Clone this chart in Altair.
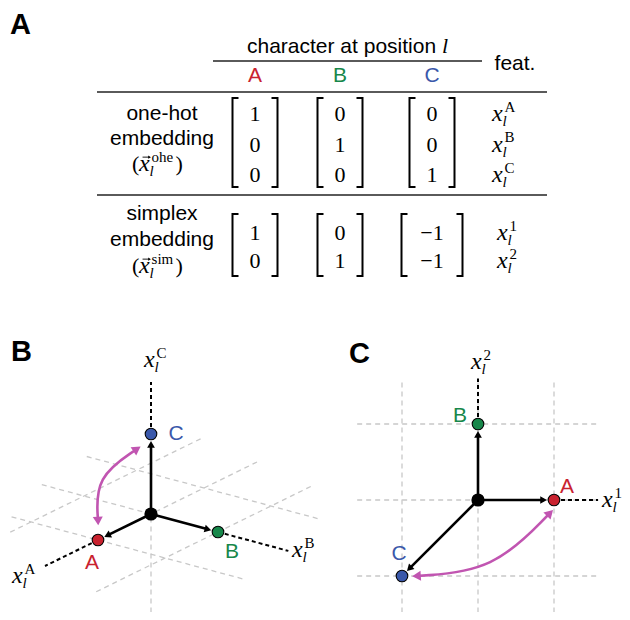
import math
import altair as alt
import pandas as pd

# ---------------- data ----------------
chars = ["A", "B", "C"]
char_colors = ["#c9222f", "#17874a", "#3a58aa"]
ohe_vectors = [[1, 0, 0], [0, 1, 0], [0, 0, 1]]      # one-hot embedding of A, B, C
sim_vectors = [[1, 0], [0, 1], [-1, -1]]             # simplex embedding of A, B, C
ohe_feat_sup = ["A", "B", "C"]
sim_feat_sup = ["1", "2"]
header_text = "character at position"
feat_text = "feat."
ohe_label = ["one-hot", "embedding"]
sim_label = ["simplex", "embedding"]
ohe_tag = "ohe"
sim_tag = "sim"
panel_letters = ["A", "B", "C"]

# ---------------- layout ----------------
PX0, PY0, W, H = 8, 8, 614, 604
SANS = "Liberation Sans"
SERIF = "Liberation Serif"
MAG = "#c155b1"
GRID = "#c8c8c8"

xs = alt.Scale(domain=[PX0, PX0 + W])
ys = alt.Scale(domain=[PY0, PY0 + H], reverse=True)
XE = alt.X("x:Q", scale=xs, axis=None)
YE = alt.Y("y:Q", scale=ys, axis=None)

layers = []


def seg_layer(rows, color, width, dash=None):
    df = pd.DataFrame(rows, columns=["x", "y", "x2", "y2"])
    kw = dict(color=color, strokeWidth=width)
    if dash:
        kw["strokeDash"] = dash
    return alt.Chart(df).mark_rule(**kw).encode(x=XE, y=YE, x2="x2:Q", y2="y2:Q")


def text_layer(rows, size, font=SANS, style="normal", weight="normal", align="center", color="black"):
    cols = ["x", "y", "t"] + (["c"] if len(rows[0]) > 3 else [])
    df = pd.DataFrame(rows, columns=cols)
    kw = dict(fontSize=size, font=font, fontStyle=style, fontWeight=weight,
              align=align, baseline="alphabetic")
    enc = dict(x=XE, y=YE, text="t:N")
    if "c" in df.columns:
        enc["color"] = alt.Color("c:N", scale=None)
    else:
        kw["color"] = color
    return alt.Chart(df).mark_text(**kw).encode(**enc)


def head_angle(ux, uy):
    return math.degrees(math.atan2(ux, -uy)) % 360


# math label pieces
m_x, m_sub, m_sup, m_par = [], [], [], []
vec_shafts, vec_heads = [], []


def math_label(xl, yb, sup, s=21, vec=False):
    m_x.append((xl, yb, "x"))
    m_sub.append((xl + 0.5 * s, yb + 0.25 * s, "l"))
    m_sup.append((xl + 0.6 * s, yb - 0.45 * s, sup))
    if vec:
        cx, cy = xl + 0.36 * s, yb - 0.66 * s
        vec_shafts.append((cx - 4, cy, cx + 3, cy))
        vec_heads.append((cx + 3, cy, 90))


# ---------------- panel A: table ----------------
col_x = [255, 340, 432]
table_rules = [(213, 61, 482, 61), (97, 92, 547, 92), (97, 195, 547, 195)]
sans_rows = [(247, 53, header_text)]
sans_center = [(515, 70, feat_text)]
colored_text = [(col_x[j], 82, chars[j], char_colors[j]) for j in range(3)]

ohe_rows_y = [121, 151.5, 182]
sim_rows_y = [240, 268]
ohe_label_y = [120, 145, 171]
sim_label_y = [220, 246, 273]
label_cx = 162

for i, t in enumerate(ohe_label):
    sans_center.append((label_cx, ohe_label_y[i], t))
for i, t in enumerate(sim_label):
    sans_center.append((label_cx, sim_label_y[i], t))

# "(x_l^tag)" expressions
for yb, tag in [(ohe_label_y[2], ohe_tag), (sim_label_y[2], sim_tag)]:
    m_par.append((132, yb, "("))
    math_label(139, yb, tag, vec=True)
    m_par.append((175.5, yb, ")"))

num_rows = []
bracket_pts = []
bid = 0
for section, vecs, rows_y, top, bot in [("ohe", ohe_vectors, ohe_rows_y, 98, 187),
                                        ("sim", sim_vectors, sim_rows_y, 214, 276)]:
    for j, v in enumerate(vecs):
        for i, val in enumerate(v):
            num_rows.append((col_x[j], rows_y[i], str(val).replace("-", "\u2212")))
        hw = 30.5 if min(v) < 0 else 22.5
        xl, xr = col_x[j] - hw, col_x[j] + hw
        for side, xe, tick in [("l", xl, 6), ("r", xr, -6)]:
            pts = [(xe + tick, top), (xe, top), (xe, bot), (xe + tick, bot)]
            for o, (px, py) in enumerate(pts):
                bracket_pts.append((px, py, bid, o))
            bid += 1

for i, s in enumerate(ohe_feat_sup):
    math_label(492, ohe_rows_y[i], s)
for i, s in enumerate(sim_feat_sup):
    math_label(497, sim_rows_y[i], s)

# ---------------- panel B: one-hot in 3D ----------------
OB = (151, 514)
eA, eB, eC = (-53, 26), (67, 18), (0, -80)


def projB(a, b, c):
    return (OB[0] + a * eA[0] + b * eB[0] + c * eC[0],
            OB[1] + a * eA[1] + b * eB[1] + c * eC[1])


gridB_fixedB = [(-1, -2.2, 1.5), (0, -2.0, 0), (1, -1.75, 2.3)]
gridB_fixedA = [(-1, -1.75, 1.7), (0, -1.63, 0), (1, -1.42, 2.2)]
gridB_vert = (-1.23, 0)

grid_rows = []
for b, a0, a1 in gridB_fixedB:
    grid_rows.append((*projB(a0, b, 0), *projB(a1, b, 0)))
for a, b0, b1 in gridB_fixedA:
    grid_rows.append((*projB(a, b0, 0), *projB(a, b1, 0)))
grid_rows.append((*projB(0, 0, gridB_vert[0]), *projB(0, 0, gridB_vert[1])))

axis_rows = [(*projB(1, 0, 0), *projB(2.0, 0, 0)),
             (*projB(0, 1, 0), *projB(0, 2.05, 0)),
             (*projB(0, 0, 1), *projB(0, 0, 1.65))]

ptsB = [projB(*v) for v in ohe_vectors]

# ---------------- panel C: simplex in 2D ----------------
OC = (478, 500)
U = 76


def projC(s1, s2):
    return (OC[0] + U * s1, OC[1] - U * s2)


for s1 in [-1, 0, 1]:
    grid_rows.append((*projC(s1, -1.48), *projC(s1, 1.6)))
for s2 in [-1, 0, 1]:
    grid_rows.append((*projC(-1.59, s2), *projC(1.58, s2)))
axis_rows += [(*projC(1, 0), *projC(1.58, 0)), (*projC(0, 1), *projC(0, 1.6))]
ptsC = [projC(*v) for v in sim_vectors]

# arrows (shafts + heads)
R_PT = 6.5
shafts, heads = [], []
for O, pts in [(OB, ptsB), (OC, ptsC)]:
    for (px, py) in pts:
        dx, dy = px - O[0], py - O[1]
        L = math.hypot(dx, dy)
        ux, uy = dx / L, dy / L
        tip = (px - ux * (R_PT + 0.3), py - uy * (R_PT + 0.3))
        cen = (tip[0] - ux * 3.6, tip[1] - uy * 3.6)
        shafts.append((O[0], O[1], cen[0], cen[1]))
        heads.append((cen[0], cen[1], head_angle(ux, uy)))

# magenta arcs (start, control, end) -> basis curve
arcs = [[(137, 449), (95.5, 477), (98, 521)],
        [(550, 513), (493.5, 571), (416.5, 576)]]
arc_rows, arc_heads = [], []
for k, (p0, p1, p2) in enumerate(arcs):
    for o, p in enumerate([p0, p1, p2]):
        arc_rows.append((p[0], p[1], k, o))
    for pe, pc in [(p0, p1), (p2, p1)]:
        dx, dy = pe[0] - pc[0], pe[1] - pc[1]
        L = math.hypot(dx, dy)
        arc_heads.append((pe[0], pe[1], head_angle(dx / L, dy / L)))

# points
pt_rows = [(ptsB[j][0], ptsB[j][1], char_colors[j]) for j in range(3)] + \
          [(ptsC[j][0], ptsC[j][1], char_colors[j]) for j in range(3)]
origin_rows = [(OB[0], OB[1]), (OC[0], OC[1])]

# point labels
colored_text += [
    (176, 440, "C", char_colors[2]), (92, 569, "A", char_colors[0]), (232, 558, "B", char_colors[1]),
    (460, 422, "B", char_colors[1]), (567, 493, "A", char_colors[0]), (399, 560, "C", char_colors[2]),
]

# axis labels
math_label(144, 367, "C")
math_label(12, 583, "A")
math_label(292, 557, "B")
math_label(471, 369, "2")
math_label(602, 507, "1")

bold_rows = [(10, 34, panel_letters[0]), (11, 361, panel_letters[1]), (349, 363, panel_letters[2])]

# ---------------- build layers ----------------
layers.append(seg_layer(grid_rows, GRID, 1.3, [5, 4]))
layers.append(seg_layer(table_rules, "#5a5a5a", 1.8))
layers.append(
    alt.Chart(pd.DataFrame(bracket_pts, columns=["x", "y", "g", "o"]))
    .mark_line(color="black", strokeWidth=2)
    .encode(x=XE, y=YE, detail="g:N", order="o:Q")
)
layers.append(seg_layer(axis_rows, "black", 2, [4, 3]))
layers.append(
    alt.Chart(pd.DataFrame(arc_rows, columns=["x", "y", "g", "o"]))
    .mark_line(color=MAG, strokeWidth=2.6, interpolate="basis")
    .encode(x=XE, y=YE, detail="g:N", order="o:Q")
)
layers.append(
    alt.Chart(pd.DataFrame(arc_heads, columns=["x", "y", "a"]))
    .mark_point(shape="triangle-up", filled=True, color=MAG, size=100, opacity=1)
    .encode(x=XE, y=YE, angle=alt.Angle("a:Q", scale=None))
)
layers.append(seg_layer(shafts, "black", 2.6))
layers.append(
    alt.Chart(pd.DataFrame(heads, columns=["x", "y", "a"]))
    .mark_point(shape="triangle-up", filled=True, color="black", size=60, opacity=1)
    .encode(x=XE, y=YE, angle=alt.Angle("a:Q", scale=None))
)
layers.append(
    alt.Chart(pd.DataFrame(origin_rows, columns=["x", "y"]))
    .mark_circle(color="black", size=175, opacity=1)
    .encode(x=XE, y=YE)
)
layers.append(
    alt.Chart(pd.DataFrame(pt_rows, columns=["x", "y", "c"]))
    .mark_circle(size=135, opacity=1, stroke="black", strokeWidth=1.1)
    .encode(x=XE, y=YE, fill=alt.Fill("c:N", scale=None))
)
# vector arrows over x
layers.append(seg_layer(vec_shafts, "black", 0.9))
layers.append(
    alt.Chart(pd.DataFrame(vec_heads, columns=["x", "y", "a"]))
    .mark_point(shape="triangle-up", filled=True, color="black", size=10, opacity=1)
    .encode(x=XE, y=YE, angle=alt.Angle("a:Q", scale=None))
)

layers.append(text_layer(sans_rows, 21, align="left"))
layers.append(text_layer(sans_center, 21))
layers.append(text_layer(colored_text, 21))
layers.append(text_layer(bold_rows, 29, weight="bold", align="left"))
layers.append(text_layer([(442, 53, "l")], 22, font=SERIF, style="italic", align="left"))
layers.append(text_layer(num_rows, 22, font=SERIF))
layers.append(text_layer(m_x, 24, font=SERIF, style="italic", align="left"))
layers.append(text_layer(m_sub, 15, font=SERIF, style="italic", align="left"))
layers.append(text_layer(m_sup, 15, font=SERIF, align="left"))
layers.append(text_layer(m_par, 22, font=SERIF, align="left"))

chart = (
    alt.layer(*layers)
    .properties(width=W, height=H, padding=0,
                autosize=alt.AutoSizeParams(type="none"), background="white")
    .configure_view(stroke=None)
)

chart.save("out.html", embed_options={"renderer": "svg", "actions": False})
